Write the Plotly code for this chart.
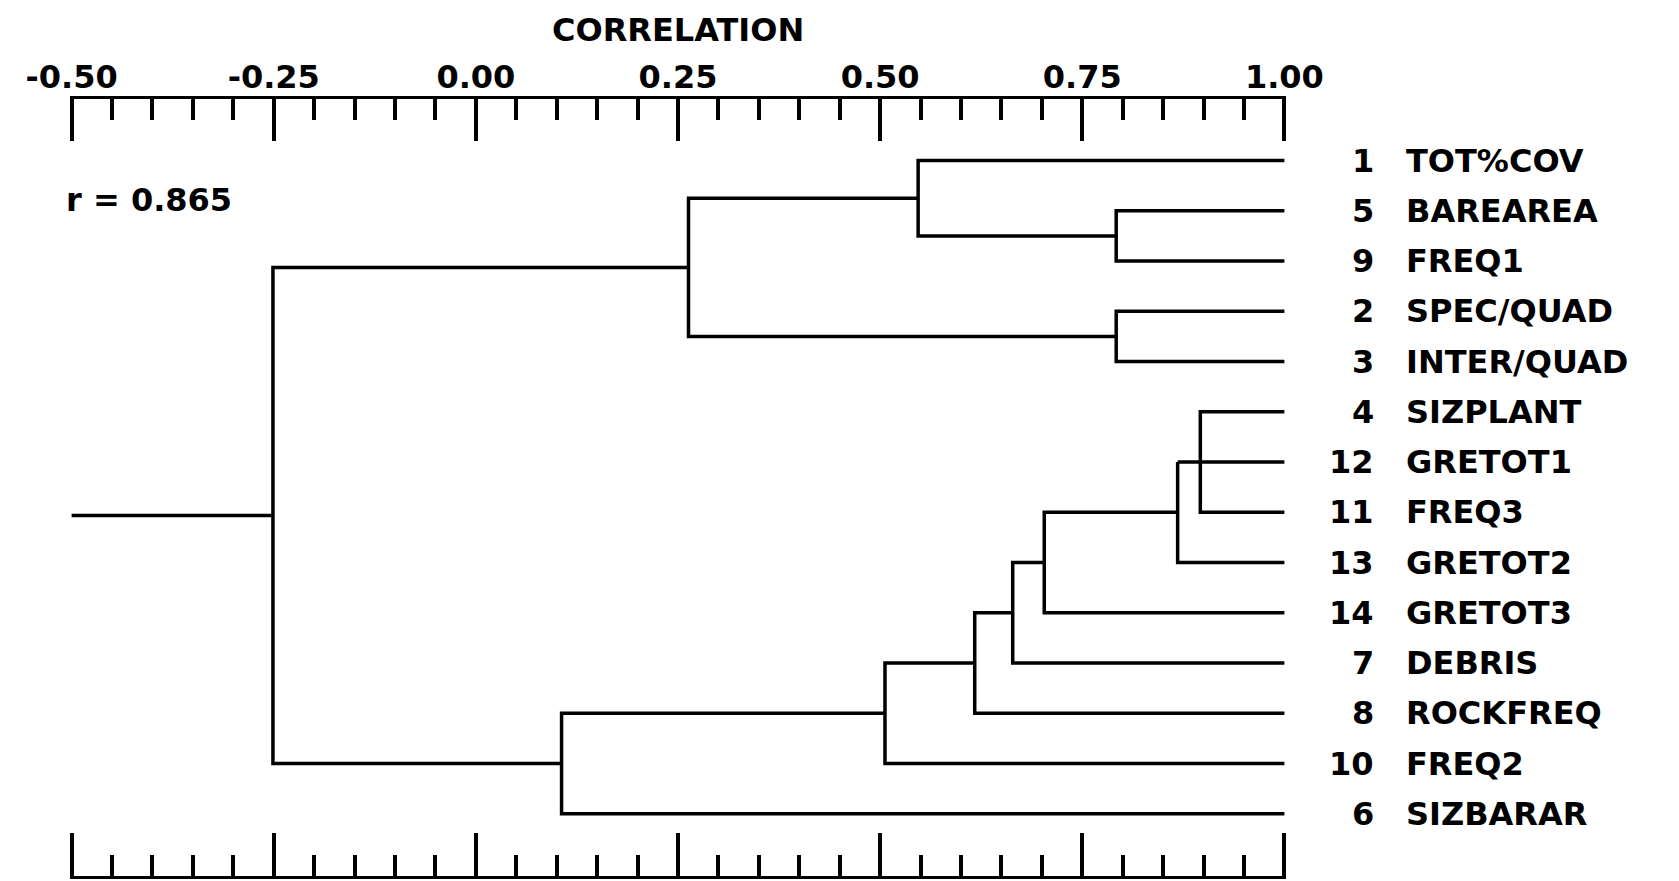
import plotly.graph_objects as go

# ---------------- data ----------------
leaf_numbers = [1, 5, 9, 2, 3, 4, 12, 11, 13, 14, 7, 8, 10, 6]
leaf_names = ["TOT%COV", "BAREAREA", "FREQ1", "SPEC/QUAD", "INTER/QUAD",
              "SIZPLANT", "GRETOT1", "FREQ3", "GRETOT2", "GRETOT3",
              "DEBRIS", "ROCKFREQ", "FREQ2", "SIZBARAR"]
leaf_corr = 1.00

# merges: left child, right child, correlation level (clusters named c1, c2, ...)
merge_left = ["5", "1", "2", "c2", "4", "c5", "c6", "c7", "c8", "c9", "c10", "c11", "c4"]
merge_right = ["9", "c1", "3", "c3", "11", "12", "13", "14", "7", "8", "10", "6", "c12"]
merge_corr = [0.792, 0.547, 0.792, 0.263, 0.896, 0.868, 0.868, 0.703, 0.664, 0.617, 0.506, 0.106, -0.251]
root_extent = -0.50

tick_vals = [-0.50, -0.25, 0.00, 0.25, 0.50, 0.75, 1.00]
tick_text = ["-0.50", "-0.25", "0.00", "0.25", "0.50", "0.75", "1.00"]
minor_step = 0.05
axis_title = "CORRELATION"
r_text = "r = 0.865"

# ---------------- build dendrogram segments ----------------
pos = {}
for i, n in enumerate(leaf_numbers):
    pos[str(n)] = (i, leaf_corr)

xs, ys = [], []
for k, (a, b, h) in enumerate(zip(merge_left, merge_right, merge_corr), start=1):
    ya, ha = pos[a]
    yb, hb = pos[b]
    xs += [ha, h, h, hb, None]
    ys += [ya, ya, yb, yb, None]
    pos["c%d" % k] = ((ya + yb) / 2.0, h)

ry, rh = pos["c%d" % len(merge_corr)]
xs += [rh, root_extent, None]
ys += [ry, ry, None]

FONT = "DejaVu Sans"
LW = 3.5
PAD = 0.002  # small range padding so end ticks are drawn

# page body has an 8px offset; plot area should occupy window x 72..1284, y 99..876
OFF = 8
px_per_unit = (1284 - 72) / (tick_vals[-1] - tick_vals[0])
left = 72 - PAD * px_per_unit - OFF
plot_w = (tick_vals[-1] - tick_vals[0] + 2 * PAD) * px_per_unit
top = 99 - OFF
bottom_edge = 876 - OFF
W, H = 1679, 881

fig = go.Figure()
fig.add_trace(go.Scatter(x=xs, y=ys, mode="lines",
                         line=dict(color="black", width=LW),
                         hoverinfo="skip", showlegend=False))
fig.add_trace(go.Scatter(x=[tick_vals[0], tick_vals[-1]], y=[0, 0], xaxis="x2",
                         mode="markers", marker=dict(opacity=0),
                         hoverinfo="skip", showlegend=False))

label_font = dict(family=FONT, size=32, color="black", weight="bold")
annotations = []
for i, (num, name) in enumerate(zip(leaf_numbers, leaf_names)):
    annotations.append(dict(x=leaf_corr, y=i, xref="x", yref="y", text=str(num),
                            showarrow=False, xanchor="right", xshift=92,
                            font=label_font))
    annotations.append(dict(x=leaf_corr, y=i, xref="x", yref="y", text=name,
                            showarrow=False, xanchor="left", xshift=120,
                            font=label_font))
annotations.append(dict(x=0.5, y=1, xref="paper", yref="paper", text=axis_title,
                        showarrow=False, xanchor="center", yanchor="middle", yshift=69,
                        font=label_font))
annotations.append(dict(x=root_extent, y=1 - (200 - 99) / (876 - 99), xref="x", yref="paper",
                        text=r_text, showarrow=False, xanchor="left", yanchor="middle",
                        xshift=-8, font=label_font))

axis_common = dict(range=[tick_vals[0] - PAD, tick_vals[-1] + PAD], showgrid=False,
                   zeroline=False, showline=True, linecolor="black", linewidth=3,
                   ticks="inside", tickwidth=3.5, tickcolor="black",
                   tickvals=tick_vals,
                   minor=dict(tickmode="linear", tick0=tick_vals[0], dtick=minor_step,
                              ticks="inside", ticklen=21, tickwidth=3.5,
                              tickcolor="black", showgrid=False))

fig.update_layout(
    width=W, height=H,
    margin=dict(l=left, r=W - left - plot_w, t=top, b=H - bottom_edge),
    paper_bgcolor="white", plot_bgcolor="white",
    xaxis=dict(**axis_common, side="bottom", ticklen=43, showticklabels=False),
    xaxis2=dict(**axis_common, side="top", overlaying="x", ticklen=42,
                ticktext=tick_text, showticklabels=True, ticklabelstandoff=-5,
                tickfont=label_font),
    yaxis=dict(range=[(876 - 160.6) / 50.25, (99 - 160.6) / 50.25], visible=False),
    annotations=annotations,
)

fig.write_html("out.html")
